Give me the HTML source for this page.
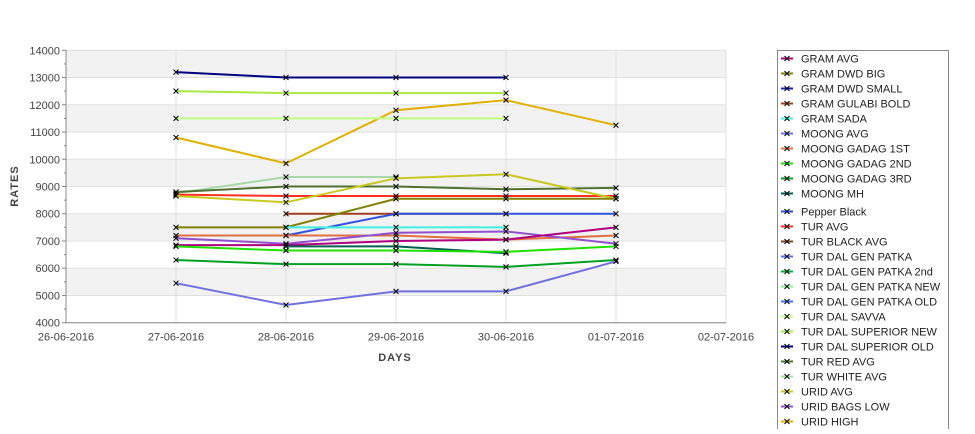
<!DOCTYPE html>
<html><head><meta charset="utf-8"><style>
body{margin:0;background:#fff;width:975px;height:429px;overflow:hidden;font-family:"Liberation Sans",sans-serif}
</style></head><body>
<svg id="chart" width="975" height="429" xmlns="http://www.w3.org/2000/svg" font-family="Liberation Sans, DejaVu Sans, sans-serif">
<g id="plot"></g>
<g id="legend"></g>
</svg>
<script>
const categories=["26-06-2016","27-06-2016","28-06-2016","29-06-2016","30-06-2016","01-07-2016","02-07-2016"];
const yTicks=[4000,5000,6000,7000,8000,9000,10000,11000,12000,13000,14000];
const legendNames=["GRAM AVG","GRAM DWD BIG","GRAM DWD SMALL","GRAM GULABI BOLD","GRAM SADA","MOONG AVG","MOONG GADAG 1ST","MOONG GADAG 2ND","MOONG GADAG 3RD","MOONG MH","Pepper Black","TUR AVG","TUR BLACK AVG","TUR DAL GEN PATKA","TUR DAL GEN PATKA 2nd","TUR DAL GEN PATKA NEW","TUR DAL GEN PATKA OLD","TUR DAL SAVVA","TUR DAL SUPERIOR NEW","TUR DAL SUPERIOR OLD","TUR RED AVG","TUR WHITE AVG","URID AVG","URID BAGS LOW","URID HIGH"];
const legendColors=["#b00080","#808000","#2020c0","#a04020","#40f0e0","#7070e0","#e07040","#20e000","#00a020","#006050","#3050e0","#ff3020","#804020","#6070e0","#00b040","#90f090","#4070ff","#c0ff80","#a8e840","#000080","#507030","#a8d8a8","#c8c820","#9050d0","#e0b000"];
// series: values by category index (null = no data)
const sGramAvg=[null,6850,6850,7000,7050,7500,null];
const sGramDwdBig=[null,7500,7500,8550,8550,8550,null];
const sGramGulabi=[null,null,8000,8000,8000,null,null];
const sGramSada=[null,null,7500,7500,7500,null,null];
const sMoongAvg=[null,5450,4650,5150,5150,6250,null];
const sMoong1st=[null,7200,7200,7200,7050,7200,null];
const sMoong2nd=[null,6800,6650,6650,6600,6800,null];
const sMoong3rd=[null,6300,6150,6150,6050,6300,null];
const sMoongMh=[null,null,6800,6800,6550,null,null];
const sPepper=[null,null,7200,8000,8000,8000,null];
const sTurAvg=[null,8700,8650,8650,8650,8650,null];
const sSavva=[null,11500,11500,11500,11500,null,null];
const sSupNew=[null,12500,12430,12430,12430,null,null];
const sSupOld=[null,13200,13000,13000,13000,null,null];
const sRedAvg=[null,8800,9000,9000,8900,8950,null];
const sWhiteAvg=[null,8750,9350,9350,null,null,null];
const sUridAvg=[null,8650,8420,9300,9450,8550,null];
const sBagsLow=[null,7100,6900,7300,7350,6900,null];
const sUridHigh=[null,10800,9850,11800,12170,11250,null];
const seriesList=[
["TUR WHITE AVG",sWhiteAvg],["URID HIGH",sUridHigh],["TUR DAL SUPERIOR OLD",sSupOld],["TUR DAL SUPERIOR NEW",sSupNew],["TUR DAL SAVVA",sSavva],
["TUR RED AVG",sRedAvg],["TUR AVG",sTurAvg],["URID AVG",sUridAvg],["GRAM GULABI BOLD",sGramGulabi],["GRAM DWD BIG",sGramDwdBig],
["Pepper Black",sPepper],["GRAM SADA",sGramSada],["MOONG GADAG 1ST",sMoong1st],["URID BAGS LOW",sBagsLow],["GRAM AVG",sGramAvg],
["MOONG MH",sMoongMh],["MOONG GADAG 2ND",sMoong2nd],["MOONG GADAG 3RD",sMoong3rd],["MOONG AVG",sMoongAvg]];
const NS="http://www.w3.org/2000/svg";
const L=66,R=726,T=50.3,B=322.7,yMin=4000,yMax=14000;
const x=i=>L+(R-L)*i/(categories.length-1);
const y=v=>B-(v-yMin)/(yMax-yMin)*(B-T);
function mk(tag,attrs,parent){const e=document.createElementNS(NS,tag);for(const k in attrs)e.setAttribute(k,attrs[k]);parent.appendChild(e);return e;}
const plot=document.getElementById('plot');
for(let i=0;i<yTicks.length-1;i++){
 if((yTicks.length-2-i)%2===0){const b=mk('rect',{x:L,y:y(yTicks[i+1]),width:R-L,height:y(yTicks[i])-y(yTicks[i+1]),fill:'#f2f2f2'},plot);
 
 }
}
yTicks.forEach((t,idx)=>{const g=mk('line',{x1:L,x2:R,y1:y(t),y2:y(t),stroke:'#e0e0e0','stroke-width':1},plot);


const tk=mk('line',{x1:L-4,x2:L,y1:y(t),y2:y(t),stroke:'#888'},plot);


if(idx<yTicks.length-1){const mt=mk('line',{x1:L-2,x2:L,y1:y(t+500),y2:y(t+500),stroke:'#888'},plot);

}
const tx=mk('text',{x:L-6,y:y(t)+4,'text-anchor':'end','font-size':11,fill:'#444'},plot);tx.textContent=t;

});
categories.forEach((c,i)=>{if(i>0){const g=mk('line',{x1:x(i),x2:x(i),y1:T,y2:B,stroke:'#e0e0e0'},plot);

}
const tx=mk('text',{x:x(i),y:B+18,'text-anchor':'middle','font-size':11,fill:'#444'},plot);tx.textContent=c;

});
const ax=mk('path',{d:`M${L},${T}V${B}H${R}`,fill:'none',stroke:'#888'},plot);


const xt=mk('text',{x:395,y:361,'text-anchor':'middle','font-size':11,'font-weight':'bold',fill:'#444','letter-spacing':'1'},plot);xt.textContent='DAYS';


const yt=mk('text',{x:0,y:0,transform:'translate(18,186) rotate(-90)','text-anchor':'middle','font-size':11,'font-weight':'bold',fill:'#444','letter-spacing':'1'},plot);yt.textContent='RATES';


seriesList.forEach(([name,vals])=>{
 const col=legendColors[legendNames.indexOf(name)];
 let d='';vals.forEach((v,i)=>{if(v!==null)d+=(d?'L':'M')+x(i)+','+y(v);});
 const p=mk('path',{d,fill:'none',stroke:col,'stroke-width':2},plot);
 
 
 vals.forEach((v,i)=>{if(v===null)return;const m=mk('path',{d:`M${x(i)-2.5},${y(v)-2.5}l5,5M${x(i)-2.5},${y(v)+2.5}l5,-5`,stroke:'#000','stroke-width':1},plot);
 
 });
});
const lg=document.getElementById('legend');
const box=mk('rect',{x:777.5,y:50.5,width:171,height:400,fill:'#fff',stroke:'#888'},lg);


legendNames.forEach((n,i)=>{
 const yy=58.5+i*15+(i>=10?3:0);
 const g=mk('g',{},lg);
 
 
 mk('line',{x1:781,x2:793,y1:yy,y2:yy,stroke:legendColors[i],'stroke-width':2},g);
 mk('path',{d:`M${784.5},${yy-2.5}l5,5M${784.5},${yy+2.5}l5,-5`,stroke:'#000'},g);
 const t=mk('text',{x:801,y:yy+4,'font-size':11,fill:'#222'},g);t.textContent=n;
});
</script>
</body></html>
